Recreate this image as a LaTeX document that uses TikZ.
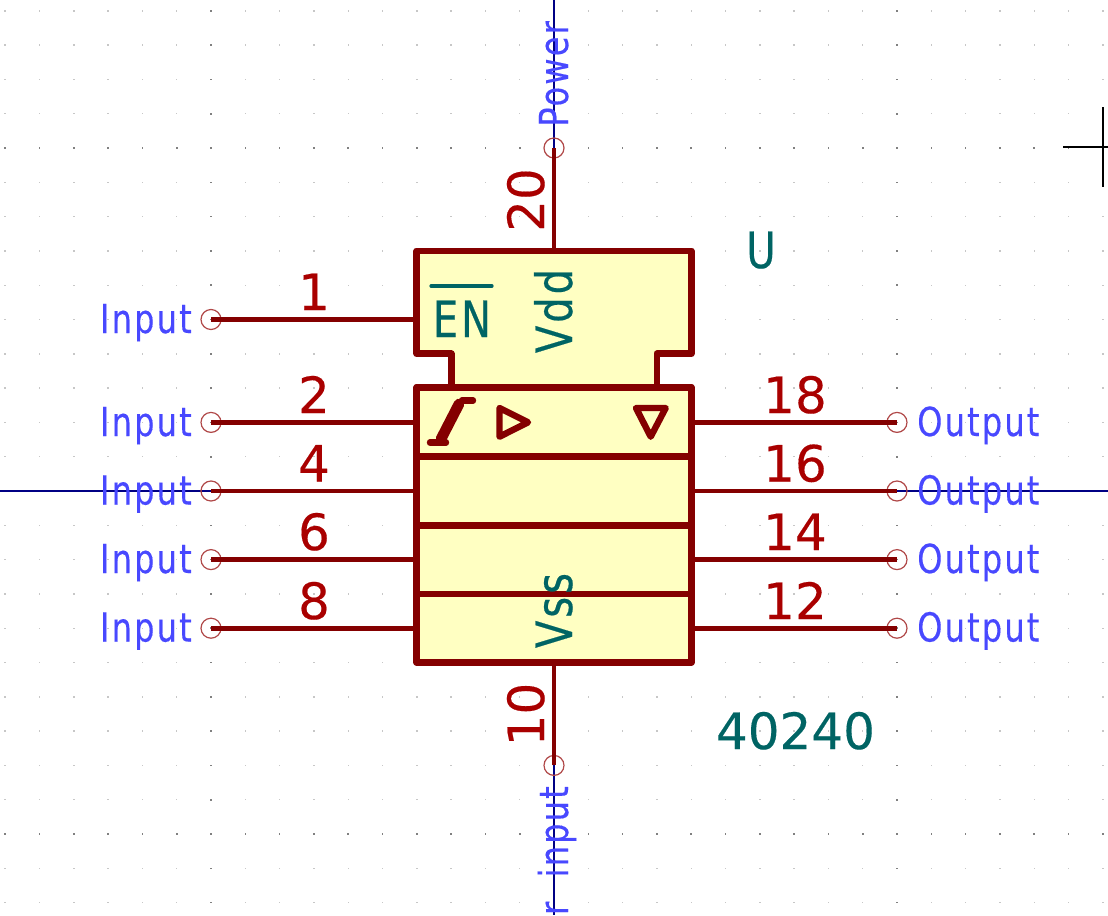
\documentclass[tikz,border=0pt]{standalone}
\usepackage{fontspec}
\newfontfamily\namefont[FakeStretch=0.8,LetterSpace=5.5,FakeBold=0.3]{DejaVu Sans}
\newfontfamily\numfont[FakeBold=0.3]{DejaVu Sans}
\newfontfamily\valfont[FakeStretch=0.8,LetterSpace=6,FakeBold=0.4]{DejaVu Sans}
\definecolor{bodyred}{HTML}{840000}
\definecolor{numred}{HTML}{A90000}
\definecolor{bodyfill}{HTML}{FFFFC2}
\definecolor{valteal}{HTML}{006464}
\definecolor{nameblue}{HTML}{4848FF}
\definecolor{axisnavy}{HTML}{000084}
\definecolor{endred}{HTML}{B04848}
\tikzset{
	pinend/.style={circle,draw=endred,line width=0.9pt,minimum size=15pt,inner sep=0pt},
	pinline/.style={draw=bodyred,line width=3.6pt},
	bodyline/.style={draw=bodyred,line width=5.1pt,line join=round,line cap=round},
	pinname/.style={text=nameblue,inner sep=0pt,font=\namefont\fontsize{30}{30}\selectfont},
	pinnum/.style={text=numred,inner sep=0pt,anchor=base,font=\numfont\fontsize{37.5}{37.5}\selectfont},
	valtext/.style={text=valteal,inner sep=0pt,font=\valfont\fontsize{37.5}{37.5}\selectfont},
}
\begin{document}
\begin{tikzpicture}[x=0.75pt,y=-0.75pt]
	\useasboundingbox (0,0) rectangle (1108,915);
	% grid
	\foreach \i in {-16,...,16}
		\foreach \j in {-14,...,13} {
			\pgfmathsetmacro{\gx}{554+34.3*\i}
			\pgfmathsetmacro{\gy}{491+34.3*\j}
			\fill[black!22] (\gx-0.7,\gy-0.7) rectangle (\gx+0.7,\gy+0.7);
		}
	\foreach \i in {-16,...,16}
		\foreach \j in {-10,0,10} {
			\pgfmathsetmacro{\gx}{554+34.3*\i}
			\pgfmathsetmacro{\gy}{491+34.3*\j}
			\fill[black!50] (\gx-0.8,\gy-1.2) rectangle (\gx+0.8,\gy+1.2);
		}
	\foreach \i in {-10,0,10}
		\foreach \j in {-14,...,13} {
			\pgfmathsetmacro{\gx}{554+34.3*\i}
			\pgfmathsetmacro{\gy}{491+34.3*\j}
			\fill[black!50] (\gx-1.2,\gy-0.8) rectangle (\gx+1.2,\gy+0.8);
		}
	% axes and cursor
	\draw [axisnavy,line width=0.8pt] (0,491)--(1108,491);
	\draw [axisnavy,line width=0.8pt] (554,0)--(554,915);
	\draw [black,line width=0.8pt] (1063,147)--(1108,147);
	\draw [black,line width=0.8pt] (1103,107)--(1103,187);
	% body
	\filldraw [bodyline,fill=bodyfill] (416.8,250.9)--(691.2,250.9)--(691.2,353.8)--(656.9,353.8)--(656.9,387.4)--(691.2,387.4)--(691.2,662.5)--(416.8,662.5)--(416.8,387.4)--(451.1,387.4)--(451.1,353.8)--(416.8,353.8)--cycle;
	\draw [bodyline] (416.8,387.4)--(691.2,387.4);
	\draw [bodyline] (416.8,456.7)--(691.2,456.7);
	\draw [bodyline] (416.8,525.3)--(691.2,525.3);
	\draw [bodyline] (416.8,593.9)--(691.2,593.9);
	% pin ends
	\node [pinend] (p1) at (211,319.5) {};
	\node [pinend] (p2) at (211,422.4) {};
	\node [pinend] (p4) at (211,491) {};
	\node [pinend] (p6) at (211,559.6) {};
	\node [pinend] (p8) at (211,628.2) {};
	\node [pinend] (p18) at (897,422.4) {};
	\node [pinend] (p16) at (897,491) {};
	\node [pinend] (p14) at (897,559.6) {};
	\node [pinend] (p12) at (897,628.2) {};
	\node [pinend] (p20) at (554,148) {};
	\node [pinend] (p10) at (554,765.4) {};
	% body edge
	\coordinate (b1) at (416.8,319.5);
	\coordinate (b2) at (416.8,422.4);
	\coordinate (b4) at (416.8,491);
	\coordinate (b6) at (416.8,559.6);
	\coordinate (b8) at (416.8,628.2);
	\coordinate (b18) at (691.2,422.4);
	\coordinate (b16) at (691.2,491);
	\coordinate (b14) at (691.2,559.6);
	\coordinate (b12) at (691.2,628.2);
	\coordinate (b20) at (554,250.9);
	\coordinate (b10) at (554,662.5);
	\draw [pinline] (p1.center)--(b1);
	\draw [pinline] (p2.center)--(b2);
	\draw [pinline] (p4.center)--(b4);
	\draw [pinline] (p6.center)--(b6);
	\draw [pinline] (p8.center)--(b8);
	\draw [pinline] (p18.center)--(b18);
	\draw [pinline] (p16.center)--(b16);
	\draw [pinline] (p14.center)--(b14);
	\draw [pinline] (p12.center)--(b12);
	\draw [pinline] (p20.center)--(b20);
	\draw [pinline] (p10.center)--(b10);
	% pin names
	\node [pinname,anchor=base east] (n1) at (192,333) {Input};
	\node [pinname,anchor=base east] (n2) at (192,436) {Input};
	\node [pinname,anchor=base east] (n4) at (192,504.5) {Input};
	\node [pinname,anchor=base east] (n6) at (192,573) {Input};
	\node [pinname,anchor=base east] (n8) at (192,641.5) {Input};
	\node [pinname,anchor=base west] (n18) at (917,436) {Output};
	\node [pinname,anchor=base west] (n16) at (917,504.5) {Output};
	\node [pinname,anchor=base west] (n14) at (917,573) {Output};
	\node [pinname,anchor=base west] (n12) at (917,641.5) {Output};
	\node [pinname,anchor=base west,rotate=90] (n20) at (568,127) {Power};
	\node [pinname,anchor=base east,rotate=90] (n10) at (568,786) {r\hspace{9pt} input};
	% pin numbers
	\node [pinnum] (m1) at (314,310) {1};
	\node [pinnum] (m2) at (314,413) {2};
	\node [pinnum] (m4) at (314,481.5) {4};
	\node [pinnum] (m6) at (314,550) {6};
	\node [pinnum] (m8) at (314,619) {8};
	\node [pinnum] (m18) at (795,413) {18};
	\node [pinnum] (m16) at (795,481.5) {16};
	\node [pinnum] (m14) at (795,550) {14};
	\node [pinnum] (m12) at (795,619) {12};
	\node [pinnum,rotate=90] (m20) at (544,200) {20};
	\node [pinnum,rotate=90] (m10) at (544,714.5) {10};
	% body texts
	\node [valtext,anchor=base] (en) at (462,337) {EN};
	\draw [valteal,line width=2.4pt,line cap=round] (431,286)--(492,286);
	\node [valtext,anchor=base,rotate=90] (vdd) at (572,311) {Vdd};
	\node [valtext,anchor=base,rotate=90] (vss) at (572,610.5) {Vss};
	\node [valtext,anchor=base] (ref) at (761,268) {U};
	\node [valtext,anchor=base,font=\numfont\fontsize{37.5}{37.5}\selectfont] (val) at (795.5,749) {40240};
	% input symbols
	\draw [bodyline,line width=4.8pt] (430,442.5)--(446,442.5);
	\draw [bodyline,line width=4.8pt] (462,400.5)--(473,400.5);
	\draw [bodyline,line width=8pt] (441,439)--(459,404);
	\draw [bodyline,line width=4.8pt] (499.5,408)--(499.5,436.7)--(528,422.3)--cycle;
	\draw [bodyline,line width=4.8pt] (636,408)--(665.7,408)--(650.7,436.7)--cycle;
\end{tikzpicture}
\end{document}
